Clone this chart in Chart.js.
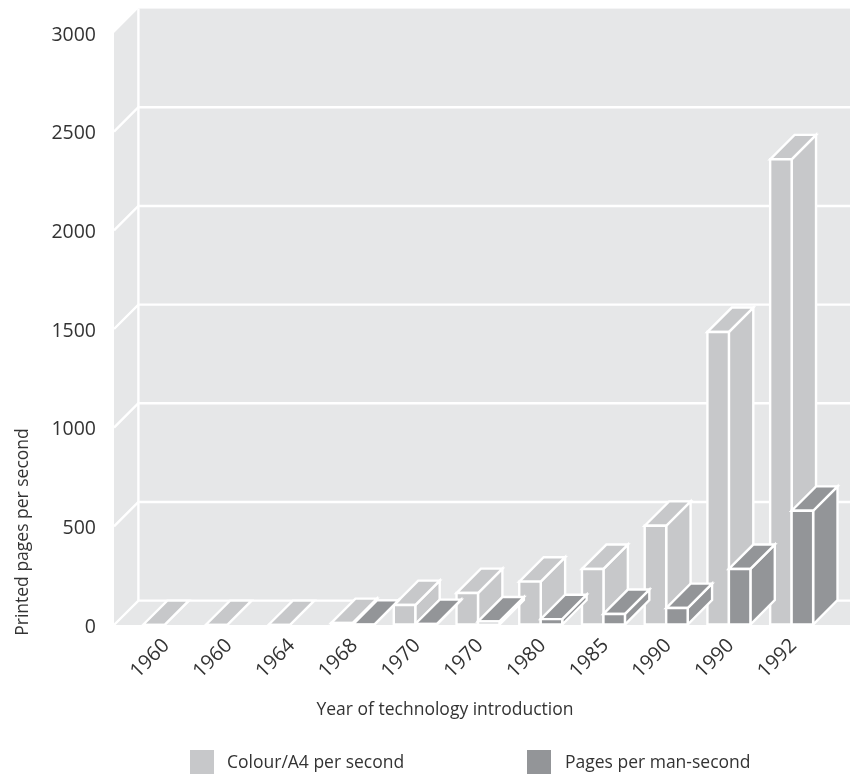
<!DOCTYPE html>
<html>
<head>
<meta charset="utf-8">
<style>
body { margin: 0; background: #fff; overflow: hidden; }
canvas { display: block; }
</style>
<script src="https://cdn.jsdelivr.net/npm/chart.js@4"></script>
</head>
<body>
<canvas id="printing_plot" width="850" height="774"></canvas>
<script>
// values
const YEARS = ['1960', '1960', '1964', '1968', '1970', '1970', '1980', '1985', '1990', '1990', '1992'];
const COLOUR_A4 = [0, 0, 0, 10, 101, 162, 220, 284, 503, 1485, 2360];
const PAGES_MAN = [null, null, null, 1, 5, 18, 30, 56, 86, 284, 579];
const Y_TICKS = [0, 500, 1000, 1500, 2000, 2500, 3000];

const COLOUR_FILL = '#c7c8ca';
const PAGES_FILL = '#939598';
const WALL_FILL = '#e6e7e8';
const TEXT_COLOR = '#333333';
const FONT_FAMILY = '"Open Sans"';
const DEPTH = 24.4;
const WALL_LEFT = 19;   // wall starts this far left of the first category slot

function poly(ctx, pts, fill) {
    ctx.beginPath();
    pts.forEach((p, i) => i ? ctx.lineTo(p[0], p[1]) : ctx.moveTo(p[0], p[1]));
    ctx.closePath();
    ctx.fillStyle = fill;
    ctx.fill();
    ctx.stroke();
}

function drawBar3d(ctx, bar, fill) {
    const x1 = bar.x - bar.width / 2, x2 = bar.x + bar.width / 2;
    const top = bar.y, base = bar.base;
    poly(ctx, [[x2, top], [x2 + DEPTH, top - DEPTH], [x2 + DEPTH, base - DEPTH], [x2, base]], fill);
    poly(ctx, [[x1, top], [x1 + DEPTH, top - DEPTH], [x2 + DEPTH, top - DEPTH], [x2, top]], fill);
    poly(ctx, [[x1, top], [x2, top], [x2, base], [x1, base]], fill);
}

const walls3d = {
    id: 'walls3d',
    beforeDatasetsDraw(chart) {
        const ctx = chart.ctx, y = chart.scales.y, area = chart.chartArea;
        const left = area.left - WALL_LEFT, back = left + DEPTH, right = chart.width + 30;
        const y0 = y.getPixelForValue(0), yMax = y.getPixelForValue(3000);
        ctx.save();
        ctx.fillStyle = WALL_FILL;
        ctx.fillRect(back, yMax - DEPTH, right - back, y0 - yMax);
        ctx.beginPath();
        ctx.moveTo(left, yMax);
        ctx.lineTo(back, yMax - DEPTH);
        ctx.lineTo(back, y0 - DEPTH);
        ctx.lineTo(right, y0 - DEPTH);
        ctx.lineTo(right - DEPTH, y0);
        ctx.lineTo(left, y0);
        ctx.closePath();
        ctx.fill();
        ctx.strokeStyle = '#fff';
        ctx.lineWidth = 2.4;
        Y_TICKS.forEach(v => {
            if (v === 3000) return;
            const py = y.getPixelForValue(v);
            ctx.beginPath();
            ctx.moveTo(left, py);
            ctx.lineTo(back, py - DEPTH);
            ctx.lineTo(right, py - DEPTH);
            ctx.stroke();
        });
        ctx.beginPath();
        ctx.moveTo(back, yMax - DEPTH);
        ctx.lineTo(back, y0 - DEPTH);
        ctx.stroke();
        ctx.restore();
    },
    beforeDatasetDraw() {
        return false;   // bars are painted in afterDatasetsDraw, with their depth
    },
    afterDatasetsDraw(chart) {
        const ctx = chart.ctx;
        ctx.save();
        ctx.strokeStyle = '#fff';
        ctx.lineWidth = 2.4;
        ctx.lineJoin = 'miter';
        chart.data.datasets.forEach((ds, i) => {
            chart.getDatasetMeta(i).data.forEach((bar, j) => {
                if (ds.data[j] !== null) drawBar3d(ctx, bar, ds.backgroundColor);
            });
        });
        ctx.restore();
    },
    afterDraw(chart) {
        const ctx = chart.ctx;
        ctx.save();
        ctx.fillStyle = TEXT_COLOR;
        ctx.textBaseline = 'middle';
        ctx.font = '17.5px ' + FONT_FAMILY;
        // axis titles sit off centre in the original
        ctx.textAlign = 'center';
        ctx.fillText('Year of technology introduction', 445, 710);
        ctx.save();
        ctx.translate(23, 532);
        ctx.rotate(-Math.PI / 2);
        ctx.fillText('Printed pages per second', 0, 0);
        ctx.restore();
        // legend
        ctx.textAlign = 'left';
        ctx.fillStyle = COLOUR_FILL;
        ctx.fillRect(190, 750, 24, 24);
        ctx.fillStyle = PAGES_FILL;
        ctx.fillRect(527, 750, 24, 24);
        ctx.fillStyle = TEXT_COLOR;
        chart.data.datasets.forEach((ds, i) => ctx.fillText(ds.label, i ? 565 : 227, 763));
        ctx.restore();
    }
};

let ctx = document.getElementById('printing_plot');
window.printing_plot = new Chart(ctx, {
    type: 'bar',
    data: {
        labels: YEARS,
        datasets: [{
            label: 'Colour/A4 per second',
            data: COLOUR_A4,
            backgroundColor: COLOUR_FILL,
        }, {
            label: 'Pages per man-second',
            data: PAGES_MAN,
            backgroundColor: PAGES_FILL,
        }],
    },
    options: {
        responsive: false,
        animation: false,
        datasets: {
            bar: {
                barPercentage: 1,
                categoryPercentage: 0.685,
            }
        },
        layout: {
            padding: { top: 33, right: 27 }
        },
        plugins: {
            legend: { display: false },
            title: { display: false },
            tooltip: { enabled: false },
        },
        scales: {
            x: {
                grid: { display: false, drawTicks: false },
                border: { display: false },
                afterFit: s => { s.height = 149; },
                ticks: {
                    color: TEXT_COLOR,
                    maxRotation: 45,
                    minRotation: 45,
                    autoSkip: false,
                    padding: 9,
                    labelOffset: 2,
                    font: { family: FONT_FAMILY, size: 20 },
                },
            },
            y: {
                min: 0,
                max: 3000,
                // invisible long tick marks push the labels away from the bars
                grid: { color: 'rgba(0,0,0,0)', drawOnChartArea: false, tickLength: 34 },
                border: { display: false },
                afterFit: s => { s.width = 133; },
                afterBuildTicks: s => { s.ticks = Y_TICKS.map(v => ({ value: v })); },
                ticks: {
                    color: TEXT_COLOR,
                    padding: 3,
                    labelOffset: 2,
                    font: { family: FONT_FAMILY, size: 19.5 },
                    callback: v => String(v),
                },
            },
        },
    },
    plugins: [walls3d],
});
</script>
</body>
</html>
